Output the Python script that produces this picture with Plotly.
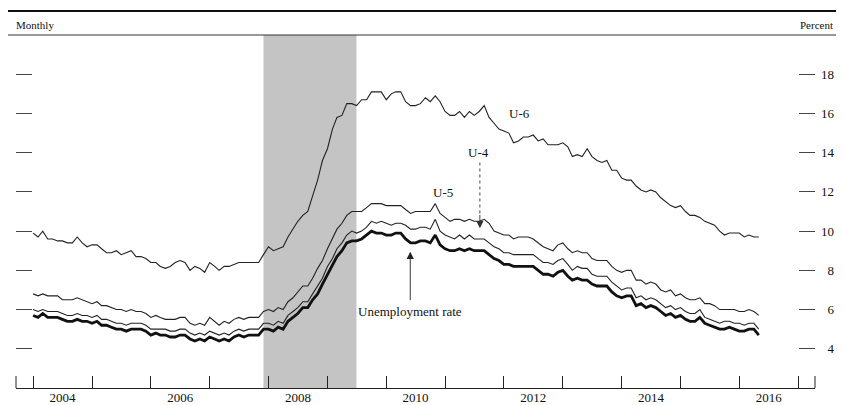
import plotly.graph_objects as go
import pandas as pd

dates = pd.date_range("2004-01-01", "2016-05-01", freq="MS")

u3 = [5.7, 5.6, 5.8, 5.6, 5.6, 5.6, 5.5, 5.4, 5.4, 5.5, 5.4, 5.4,
      5.3, 5.4, 5.2, 5.2, 5.1, 5.0, 5.0, 4.9, 5.0, 5.0, 5.0, 4.9,
      4.7, 4.8, 4.7, 4.7, 4.6, 4.6, 4.7, 4.7, 4.5, 4.4, 4.5, 4.4,
      4.6, 4.5, 4.4, 4.5, 4.4, 4.6, 4.7, 4.6, 4.7, 4.7, 4.7, 5.0,
      5.0, 4.9, 5.1, 5.0, 5.4, 5.6, 5.8, 6.1, 6.1, 6.5, 6.8, 7.3,
      7.8, 8.3, 8.7, 9.0, 9.4, 9.5, 9.5, 9.6, 9.8, 10.0, 9.9, 9.9,
      9.8, 9.8, 9.9, 9.9, 9.6, 9.4, 9.4, 9.5, 9.5, 9.4, 9.8, 9.3,
      9.1, 9.0, 9.0, 9.1, 9.0, 9.1, 9.0, 9.0, 9.0, 8.8, 8.6, 8.5,
      8.3, 8.3, 8.2, 8.2, 8.2, 8.2, 8.2, 8.0, 7.8, 7.8, 7.7, 7.9,
      8.0, 7.7, 7.5, 7.6, 7.5, 7.5, 7.3, 7.2, 7.2, 7.2, 6.9, 6.7,
      6.6, 6.7, 6.7, 6.2, 6.3, 6.1, 6.2, 6.1, 5.9, 5.7, 5.8, 5.6,
      5.7, 5.5, 5.4, 5.4, 5.6, 5.3, 5.2, 5.1, 5.0, 5.0, 5.1, 5.0,
      4.9, 4.9, 5.0, 5.0, 4.7]

u4 = [6.0, 5.9, 6.0, 5.9, 5.9, 5.9, 5.8, 5.7, 5.7, 5.8, 5.7, 5.7,
      5.6, 5.7, 5.5, 5.5, 5.4, 5.3, 5.3, 5.2, 5.3, 5.3, 5.3, 5.2,
      5.0, 5.0, 5.0, 5.0, 4.9, 4.9, 5.0, 5.0, 4.8, 4.7, 4.8, 4.7,
      4.9, 4.8, 4.7, 4.8, 4.7, 4.9, 5.0, 4.9, 5.0, 5.0, 5.0, 5.3,
      5.3, 5.2, 5.4, 5.3, 5.7, 5.9, 6.1, 6.4, 6.4, 6.8, 7.2, 7.6,
      8.2, 8.6, 9.1, 9.4, 9.8, 10.0, 9.9, 10.0, 10.2, 10.5, 10.4, 10.5,
      10.4, 10.3, 10.4, 10.4, 10.3, 10.1, 10.1, 10.2, 10.2, 10.1, 10.6, 10.0,
      9.8, 9.7, 9.6, 9.8, 9.6, 9.8, 9.6, 9.6, 9.6, 9.4, 9.2, 9.1,
      8.9, 8.9, 8.8, 8.8, 8.8, 8.8, 8.8, 8.6, 8.4, 8.4, 8.3, 8.5,
      8.6, 8.3, 8.0, 8.2, 8.1, 8.1, 7.8, 7.7, 7.7, 7.7, 7.4, 7.2,
      7.0, 7.1, 7.1, 6.6, 6.7, 6.5, 6.6, 6.5, 6.3, 6.1, 6.2, 6.0,
      6.1, 5.9, 5.8, 5.8, 6.0, 5.6, 5.5, 5.4, 5.3, 5.4, 5.4, 5.3,
      5.3, 5.2, 5.3, 5.3, 5.0]

u5 = [6.8, 6.7, 6.8, 6.7, 6.7, 6.7, 6.5, 6.5, 6.5, 6.6, 6.5, 6.4,
      6.3, 6.4, 6.2, 6.2, 6.1, 6.0, 6.0, 5.9, 6.0, 5.9, 5.9, 5.8,
      5.6, 5.7, 5.6, 5.5, 5.5, 5.5, 5.6, 5.6, 5.3, 5.2, 5.3, 5.2,
      5.6, 5.4, 5.2, 5.4, 5.3, 5.5, 5.6, 5.5, 5.6, 5.6, 5.6, 5.9,
      6.0, 5.9, 6.1, 6.0, 6.4, 6.6, 6.9, 7.2, 7.2, 7.6, 8.1, 8.5,
      9.1, 9.6, 10.1, 10.4, 10.8, 11.0, 11.0, 11.0, 11.2, 11.4, 11.4, 11.4,
      11.3, 11.3, 11.3, 11.3, 11.1, 10.9, 11.0, 11.0, 11.0, 11.0, 11.4, 10.9,
      10.7, 10.5, 10.6, 10.6, 10.5, 10.6, 10.5, 10.5, 10.6, 10.4, 10.0, 9.9,
      9.8, 9.8, 9.6, 9.7, 9.7, 9.7, 9.6, 9.4, 9.2, 9.1, 9.0, 9.3,
      9.4, 9.1, 8.9, 9.0, 8.9, 8.9, 8.6, 8.5, 8.5, 8.5, 8.2, 8.0,
      7.9, 8.0, 8.0, 7.5, 7.5, 7.3, 7.4, 7.3, 7.0, 6.9, 7.0, 6.7,
      6.8, 6.6, 6.5, 6.5, 6.6, 6.3, 6.3, 6.2, 6.0, 6.0, 6.0, 6.0,
      5.9, 5.9, 6.0, 5.9, 5.7]

u6 = [9.9, 9.7, 10.0, 9.6, 9.6, 9.5, 9.5, 9.4, 9.4, 9.7, 9.4, 9.2,
      9.3, 9.3, 9.1, 8.9, 8.9, 9.0, 8.8, 8.9, 9.0, 8.7, 8.7, 8.6,
      8.4, 8.4, 8.2, 8.1, 8.2, 8.4, 8.5, 8.4, 8.0, 8.2, 8.1, 7.9,
      8.4, 8.2, 8.0, 8.2, 8.2, 8.3, 8.4, 8.4, 8.4, 8.4, 8.4, 8.8,
      9.2, 9.0, 9.1, 9.2, 9.7, 10.1, 10.5, 10.8, 11.0, 11.8, 12.6, 13.6,
      14.2, 15.2, 15.8, 15.9, 16.5, 16.5, 16.4, 16.7, 16.7, 17.1, 17.1, 17.1,
      16.7, 17.0, 17.1, 17.1, 16.6, 16.4, 16.4, 16.5, 16.8, 16.6, 16.9, 16.6,
      16.1, 15.9, 15.9, 16.1, 15.8, 16.1, 15.9, 16.1, 16.4, 15.8, 15.5, 15.2,
      15.1, 15.0, 14.5, 14.6, 14.8, 14.8, 14.9, 14.6, 14.7, 14.4, 14.4, 14.4,
      14.5, 14.3, 13.8, 13.9, 13.8, 14.2, 13.8, 13.6, 13.5, 13.6, 13.1, 13.1,
      12.7, 12.6, 12.6, 12.3, 12.1, 12.0, 12.1, 12.0, 11.7, 11.5, 11.3, 11.2,
      11.3, 11.0, 10.8, 10.8, 10.7, 10.5, 10.4, 10.3, 10.0, 9.8, 9.9, 9.9,
      9.9, 9.7, 9.8, 9.7, 9.7]

y_ticks = [4, 6, 8, 10, 12, 14, 16, 18]
y_ticktext = ["\u2007" + str(v) if v < 10 else str(v) for v in y_ticks]
year_ticks = [f"{y}-01-01" for y in range(2004, 2018)]
label_years = [2004, 2006, 2008, 2010, 2012, 2014, 2016]
label_pos = [f"{y}-07-02" for y in label_years]
label_text = [str(y) for y in label_years]
recession = ("2007-12-01", "2009-06-30")

FONT = "Liberation Serif, Times New Roman, serif"

fig = go.Figure()
fig.add_trace(go.Scatter(x=dates, y=u6, mode="lines", line=dict(color="#222", width=1.1), name="U-6"))
fig.add_trace(go.Scatter(x=dates, y=u5, mode="lines", line=dict(color="#222", width=1.1), name="U-5"))
fig.add_trace(go.Scatter(x=dates, y=u4, mode="lines", line=dict(color="#222", width=1.1), name="U-4"))
fig.add_trace(go.Scatter(x=dates, y=u3, mode="lines", line=dict(color="#111", width=2.8), name="Unemployment rate"))
# invisible trace to anchor label axis
fig.add_trace(go.Scatter(x=[dates[0]], y=[None], xaxis="x2", showlegend=False, hoverinfo="skip"))

xrange = ["2003-09-17", "2017-04-15"]

# the page body adds an 8px margin, so the figure is sized to fit the 844x405 window
fig.update_layout(
    width=836, height=397,
    margin=dict(l=8, r=29, t=27, b=17, autoexpand=False),
    paper_bgcolor="white", plot_bgcolor="white",
    showlegend=False,
    font=dict(family=FONT, size=13, color="#111"),
    xaxis=dict(type="date", range=xrange, tickmode="array", tickvals=year_ticks,
               showticklabels=False, ticks="inside", ticklen=12, tickcolor="#222",
               tickwidth=1, showline=True, linecolor="#222", linewidth=1,
               showgrid=False, zeroline=False, automargin=False),
    xaxis2=dict(type="date", range=xrange, overlaying="x", anchor="y", side="bottom",
                tickmode="array", tickvals=label_pos, ticktext=label_text,
                ticks="", showline=False, showgrid=False, zeroline=False,
                tickfont=dict(size=13), automargin=False),
    yaxis=dict(range=[2, 20], tickmode="array", tickvals=y_ticks, ticktext=y_ticktext,
               side="right", ticks="inside", ticklen=16, tickcolor="#444", tickwidth=1,
               mirror="ticks", showline=False, showgrid=False, zeroline=False,
               tickfont=dict(size=13), ticklabelstandoff=5, automargin=False),
)

fig.add_shape(type="rect", xref="x", yref="paper", x0=recession[0], x1=recession[1],
              y0=0, y1=1, fillcolor="#c4c4c4", line=dict(width=0), layer="below")
# end ticks of bottom axis
for xp in (0, 1):
    fig.add_shape(type="line", xref="paper", yref="paper", x0=xp, x1=xp, y0=0, y1=12/353,
                  line=dict(color="#222", width=1))
# header rules
fig.add_shape(type="line", xref="paper", yref="paper", x0=-0.010, x1=1.036, y0=1, y1=1,
              line=dict(color="#333", width=1))
fig.add_shape(type="line", xref="paper", yref="paper", x0=-0.010, x1=1.036, y0=1.068, y1=1.068,
              line=dict(color="#111", width=2))

fig.add_annotation(text="Monthly", xref="paper", yref="paper", x=-0.0025, y=1.028,
                   xanchor="left", yanchor="middle", showarrow=False, font=dict(size=11))
fig.add_annotation(text="Percent", xref="paper", yref="paper", x=1.025, y=1.028,
                   xanchor="right", yanchor="middle", showarrow=False, font=dict(size=11))

fig.add_annotation(text="U-6", x="2012-04-10", y=16.0, showarrow=False, font=dict(size=13))
fig.add_annotation(text="U-5", x="2010-12-20", y=11.95, showarrow=False, font=dict(size=13))
fig.add_annotation(text="U-4", x="2011-07-30", y=14.0, showarrow=False, font=dict(size=13))
fig.add_annotation(text="Unemployment rate", x="2010-05-30", y=5.9, showarrow=False, font=dict(size=13))

# U-4 pointer: dotted shaft plus arrowhead
fig.add_shape(type="line", xref="x", yref="y", x0="2011-08-05", x1="2011-08-05", y0=13.5, y1=10.8,
              line=dict(color="#444", width=1, dash="dot"))
fig.add_annotation(text="", x="2011-08-05", y=10.15, ax="2011-08-05", ay=10.9,
                   axref="x", ayref="y", showarrow=True, arrowhead=2, arrowsize=1.6,
                   arrowwidth=0.9, arrowcolor="#333")
fig.add_annotation(text="", x="2010-05-30", y=8.95, ax="2010-05-30", ay=6.4,
                   axref="x", ayref="y", showarrow=True, arrowhead=2, arrowsize=1.6,
                   arrowwidth=0.9, arrowcolor="#222")

fig.write_html("out.html")
